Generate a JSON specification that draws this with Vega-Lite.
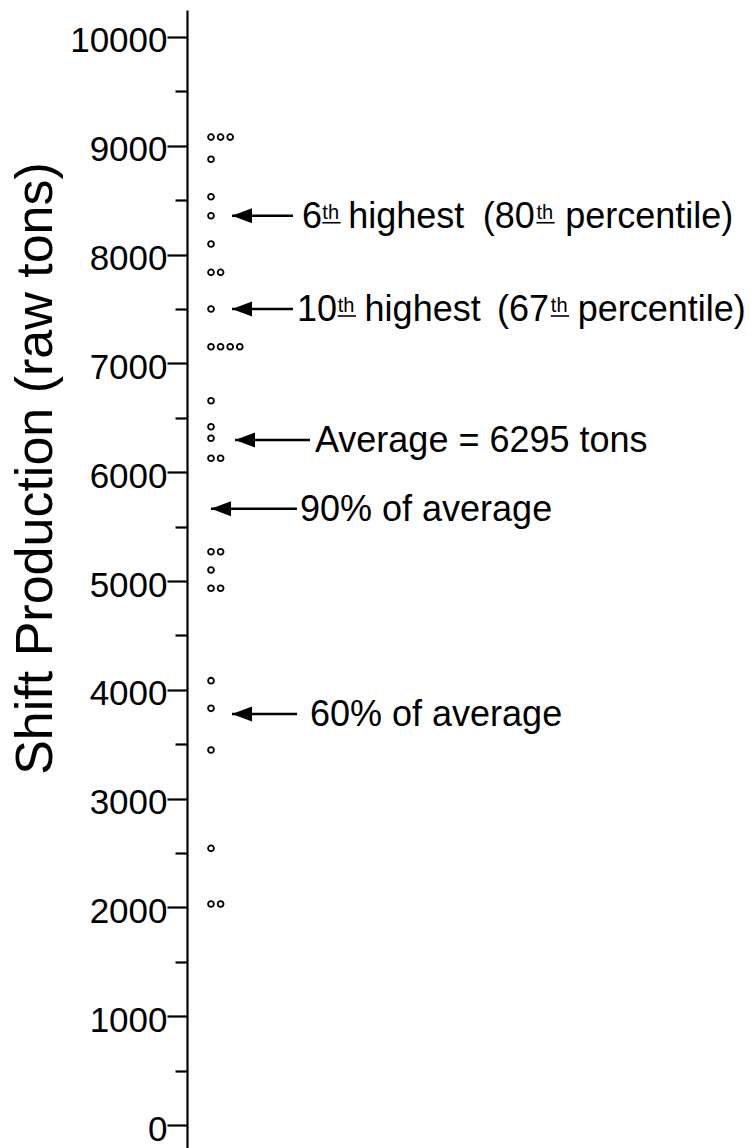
{
  "$schema": "https://vega.github.io/schema/vega-lite/v6.json",
  "width": 564,
  "height": 1138,
  "autosize": {"type": "none"},
  "padding": {"left": 187, "top": 10, "right": 0, "bottom": 0},
  "background": "white",
  "config": {"view": {"stroke": null}, "font": "Liberation Sans"},
  "datasets": {
    "shifts": [
      {"tons": 9080}, {"tons": 9080}, {"tons": 9080}, {"tons": 8876}, {"tons": 8532},
      {"tons": 8357}, {"tons": 8097}, {"tons": 7837}, {"tons": 7837}, {"tons": 7500},
      {"tons": 7153}, {"tons": 7153}, {"tons": 7153}, {"tons": 7153}, {"tons": 6657},
      {"tons": 6418}, {"tons": 6312}, {"tons": 6128}, {"tons": 6128}, {"tons": 5269},
      {"tons": 5269}, {"tons": 5101}, {"tons": 4933}, {"tons": 4933}, {"tons": 4084},
      {"tons": 3830}, {"tons": 3447}, {"tons": 2543}, {"tons": 2031}, {"tons": 2031}
    ],
    "arrows": [
      {"note": "6th highest", "tons": 8357, "tip": 3.19, "tail": 9.54},
      {"note": "10th highest", "tons": 7500, "tip": 3.19, "tail": 9.54},
      {"note": "average", "tons": 6295, "tip": 3.5, "tail": 11.31},
      {"note": "90% of average", "tons": 5665, "tip": 1.0, "tail": 9.96},
      {"note": "60% of average", "tons": 3777, "tip": 3.19, "tail": 9.96}
    ],
    "labels": [
      {"tons": 8357, "kind": "main", "x": 10.48, "x2": 10.48, "text": "6"},
      {"tons": 8357, "kind": "sup", "x": 12.6, "x2": 14.5, "text": "th"},
      {"tons": 8357, "kind": "main", "x": 15.3, "x2": 15.3, "text": "highest"},
      {"tons": 8357, "kind": "main", "x": 29.3, "x2": 29.3, "text": "(80"},
      {"tons": 8357, "kind": "sup", "x": 34.9, "x2": 36.8, "text": "th"},
      {"tons": 8357, "kind": "main", "x": 37.9, "x2": 37.9, "text": "percentile)"},
      {"tons": 7500, "kind": "main", "x": 9.96, "x2": 9.96, "text": "10"},
      {"tons": 7500, "kind": "sup", "x": 14.2, "x2": 16.1, "text": "th"},
      {"tons": 7500, "kind": "main", "x": 17.0, "x2": 17.0, "text": "highest"},
      {"tons": 7500, "kind": "main", "x": 30.8, "x2": 30.8, "text": "(67"},
      {"tons": 7500, "kind": "sup", "x": 36.4, "x2": 38.3, "text": "th"},
      {"tons": 7500, "kind": "main", "x": 39.2, "x2": 39.2, "text": "percentile)"},
      {"tons": 6295, "kind": "main", "x": 11.83, "x2": 11.83, "text": "Average = 6295 tons"},
      {"tons": 5665, "kind": "main", "x": 10.27, "x2": 10.27, "text": "90% of average"},
      {"tons": 3777, "kind": "main", "x": 11.31, "x2": 11.31, "text": "60% of average"}
    ]
  },
  "resolve": {"axis": {"y": "independent"}},
  "layer": [
    {
      "data": {"name": "shifts"},
      "transform": [
        {"window": [{"op": "row_number", "as": "col"}], "groupby": ["tons"]}
      ],
      "mark": {"type": "point", "shape": "circle", "filled": false, "stroke": "black", "strokeWidth": 1.8, "size": 34, "opacity": 1},
      "encoding": {
        "x": {"field": "col", "type": "quantitative", "scale": {"domain": [-1.5, 57.25], "nice": false, "zero": false}, "axis": null},
        "y": {
          "field": "tons", "type": "quantitative",
          "scale": {"domain": [-211, 10248], "nice": false, "zero": false},
          "axis": {
            "orient": "left",
            "values": [0, 1000, 2000, 3000, 4000, 5000, 6000, 7000, 8000, 9000, 10000],
            "format": "d",
            "tickSize": 20, "tickWidth": 2.2, "tickColor": "black",
            "domainColor": "black", "domainWidth": 2.2,
            "labelFontSize": 35, "labelColor": "black", "labelPadding": 0,
            "labelFont": "Liberation Sans", "labelOffset": 4,
            "labelFlush": false, "labelOverlap": false,
            "grid": false,
            "title": "Shift Production (raw tons)",
            "titleFontSize": 52, "titleFontWeight": "normal", "titleColor": "black",
            "titleFont": "Liberation Sans", "titleAngle": 270, "titleAlign": "center",
            "titleBaseline": "alphabetic", "titleX": -136, "titleY": 458
          }
        }
      }
    },
    {
      "data": {"name": "arrows"},
      "mark": {"type": "rule", "stroke": "black", "strokeWidth": 2.5},
      "encoding": {
        "x": {"field": "tip", "type": "quantitative"},
        "x2": {"field": "tail"},
        "y": {
          "field": "tons", "type": "quantitative",
          "axis": {
            "orient": "left",
            "values": [500, 1500, 2500, 3500, 4500, 5500, 6500, 7500, 8500, 9500],
            "tickSize": 12, "tickWidth": 2.2, "tickColor": "black",
            "labels": false, "domain": false, "grid": false, "title": null
          }
        }
      }
    },
    {
      "data": {"name": "arrows"},
      "mark": {"type": "point", "shape": "M0,0L2,-0.75L2,0.75Z", "filled": true, "fill": "black", "stroke": null, "size": 400, "opacity": 1},
      "encoding": {
        "x": {"field": "tip", "type": "quantitative"},
        "y": {"field": "tons", "type": "quantitative", "axis": null}
      }
    },
    {
      "data": {"name": "labels"},
      "transform": [{"filter": "datum.kind === 'main'"}],
      "mark": {"type": "text", "align": "left", "baseline": "alphabetic", "dy": 12, "fontSize": 36, "font": "Liberation Sans", "color": "black"},
      "encoding": {
        "x": {"field": "x", "type": "quantitative"},
        "y": {"field": "tons", "type": "quantitative", "axis": null},
        "text": {"field": "text"}
      }
    },
    {
      "data": {"name": "labels"},
      "transform": [{"filter": "datum.kind === 'sup'"}],
      "mark": {"type": "text", "align": "left", "baseline": "alphabetic", "dy": 3, "fontSize": 20, "font": "Liberation Sans", "color": "black"},
      "encoding": {
        "x": {"field": "x", "type": "quantitative"},
        "y": {"field": "tons", "type": "quantitative", "axis": null},
        "text": {"field": "text"}
      }
    },
    {
      "data": {"name": "labels"},
      "transform": [{"filter": "datum.kind === 'sup'"}],
      "mark": {"type": "rule", "stroke": "black", "strokeWidth": 1.6, "yOffset": 7},
      "encoding": {
        "x": {"field": "x", "type": "quantitative"},
        "x2": {"field": "x2"},
        "y": {"field": "tons", "type": "quantitative", "axis": null}
      }
    }
  ]
}
